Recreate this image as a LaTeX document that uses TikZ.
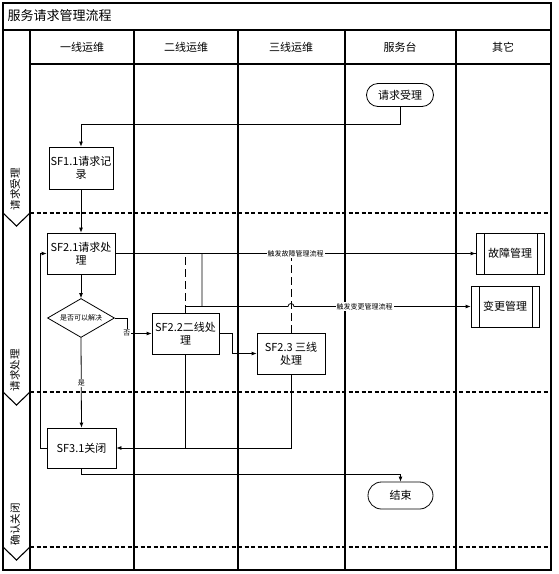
\documentclass[tikz,border=0pt]{standalone}
\usepackage{fontspec}
\setmainfont{Noto Sans CJK SC}
\usetikzlibrary{arrows.meta, shapes.geometric, shapes.misc}

\begin{document}
\begin{tikzpicture}[x=1pt, y=-1pt, line width=0.8pt,
	lane/.style = {line width=1.1pt},
	sep/.style = {line width=1.5pt, dash pattern=on 4pt off 2.5pt},
	main/.style = {draw, align=center, minimum width=68pt, minimum height=41pt, inner sep=1pt, font=\fontsize{11}{13}\selectfont},
	term/.style = {draw, rounded rectangle, minimum width=69pt, minimum height=23pt, inner sep=1pt, font=\fontsize{11}{13}\selectfont},
	dec/.style = {draw, diamond, aspect=1.7, minimum width=67pt, minimum height=39pt, inner sep=0pt, font=\fontsize{7}{8}\selectfont},
	sub/.style = {main, path picture={
		\draw ([xshift=8pt]path picture bounding box.north west) -- ([xshift=8pt]path picture bounding box.south west)
		([xshift=-7pt]path picture bounding box.north east) -- ([xshift=-7pt]path picture bounding box.south east);}},
	lab/.style = {fill=white, inner sep=1pt, font=\fontsize{7}{8}\selectfont},
	head/.style = {font=\fontsize{11}{13}\selectfont},
	phase/.style = {rotate=90, font=\fontsize{10.5}{12}\selectfont},
	arr/.style = {-{Latex[length=5pt, width=4pt]}},
	dsh/.style = {dash pattern=on 8pt off 4pt}]

	\useasboundingbox (0,0) rectangle (558,574);

	\draw[lane] (3,3) rectangle (551,570);
	\draw[lane] (3,30) -- (551,30);
	\draw[lane] (30,64) -- (551,64);
	\foreach \x in {30,134,238,345,456}
		\draw[lane] (\x,30) -- (\x,570);
	\foreach \y in {213,392,547} {
		\draw[sep] (30,\y) -- (551,\y);
		\draw[lane] (3,\y) -- (16.5,\y+13) -- (30,\y);
	}

	\node[font=\fontsize{13}{15}\selectfont, anchor=west] (t) at (4,16) {服务请求管理流程};
	\node[head] (h1) at (82,47) {一线运维};
	\node[head] (h2) at (186,47) {二线运维};
	\node[head] (h3) at (291,47) {三线运维};
	\node[head] (h4) at (400,47) {服务台};
	\node[head] (h5) at (503,47) {其它};
	\node[phase] (p1) at (15,189) {请求受理};
	\node[phase] (p2) at (15,370) {请求处理};
	\node[phase] (p3) at (15,524) {确认关闭};

	\node[term] (1) at (400,95) {请求受理};
	\node[main, minimum width=64pt, minimum height=42pt] (2) at (81,168) {SF1.1请求记\\录};
	\node[main] (3) at (81,253.5) {SF2.1请求处\\理};
	\node[dec] (4) at (81,318) {是否可以解决};
	\node[main, minimum width=67pt] (5) at (185.5,333.5) {SF2.2二线处\\理};
	\node[main] (6) at (291,353.5) {SF2.3 三线\\处理};
	\node[main, minimum width=69pt, minimum height=40pt] (7) at (81.5,448) {SF3.1关闭};
	\node[sub] (8) at (510,253.5) {故障管理};
	\node[sub] (9) at (505,306.5) {变更管理};
	\node[term, minimum width=67pt, minimum height=27pt] (10) at (400.5,495.5) {结束};

	\coordinate (a) at (202,253.5);
	\coordinate (b) at (202,306.5);
	\coordinate (hop) at (288,306.5);

	\draw[dsh] (5.north) |- (8.west);
	\draw[dsh] (6.north) -- (6.north |- 8.west);
	\draw (5.north) |- (b);
	\draw[arr] (3.east) -- node[lab]{触发故障管理流程} (8.west);
	\draw[arr] (3.east) -- (a) -- (b) -- (hop) arc[start angle=180, end angle=0, radius=3pt]
		-- node[lab, pos=.4]{触发变更管理流程} (9.west);

	\draw[arr] (1.south) -- ++(0,17) -| (2.north);
	\draw[arr] (2) -- (3);
	\draw[arr] (3) -- (4);
	\draw[arr] (4.east) -- ++(12,0) |- node[lab]{否} (5.west);
	\draw[arr] (4.south) -- node[lab]{是} (7.north);
	\draw[arr] (5.east) -- ++(13,0) |- (6.west);
	\draw (5.south) -- (5.south |- 7.east);
	\draw[arr] (6.south) |- (7.east);
	\draw[arr] (7.west) -- ++(-6,0) |- (3.west);
	\draw[arr] (7.south) -- ++(0,6) -| (10.north);
\end{tikzpicture}
\end{document}
